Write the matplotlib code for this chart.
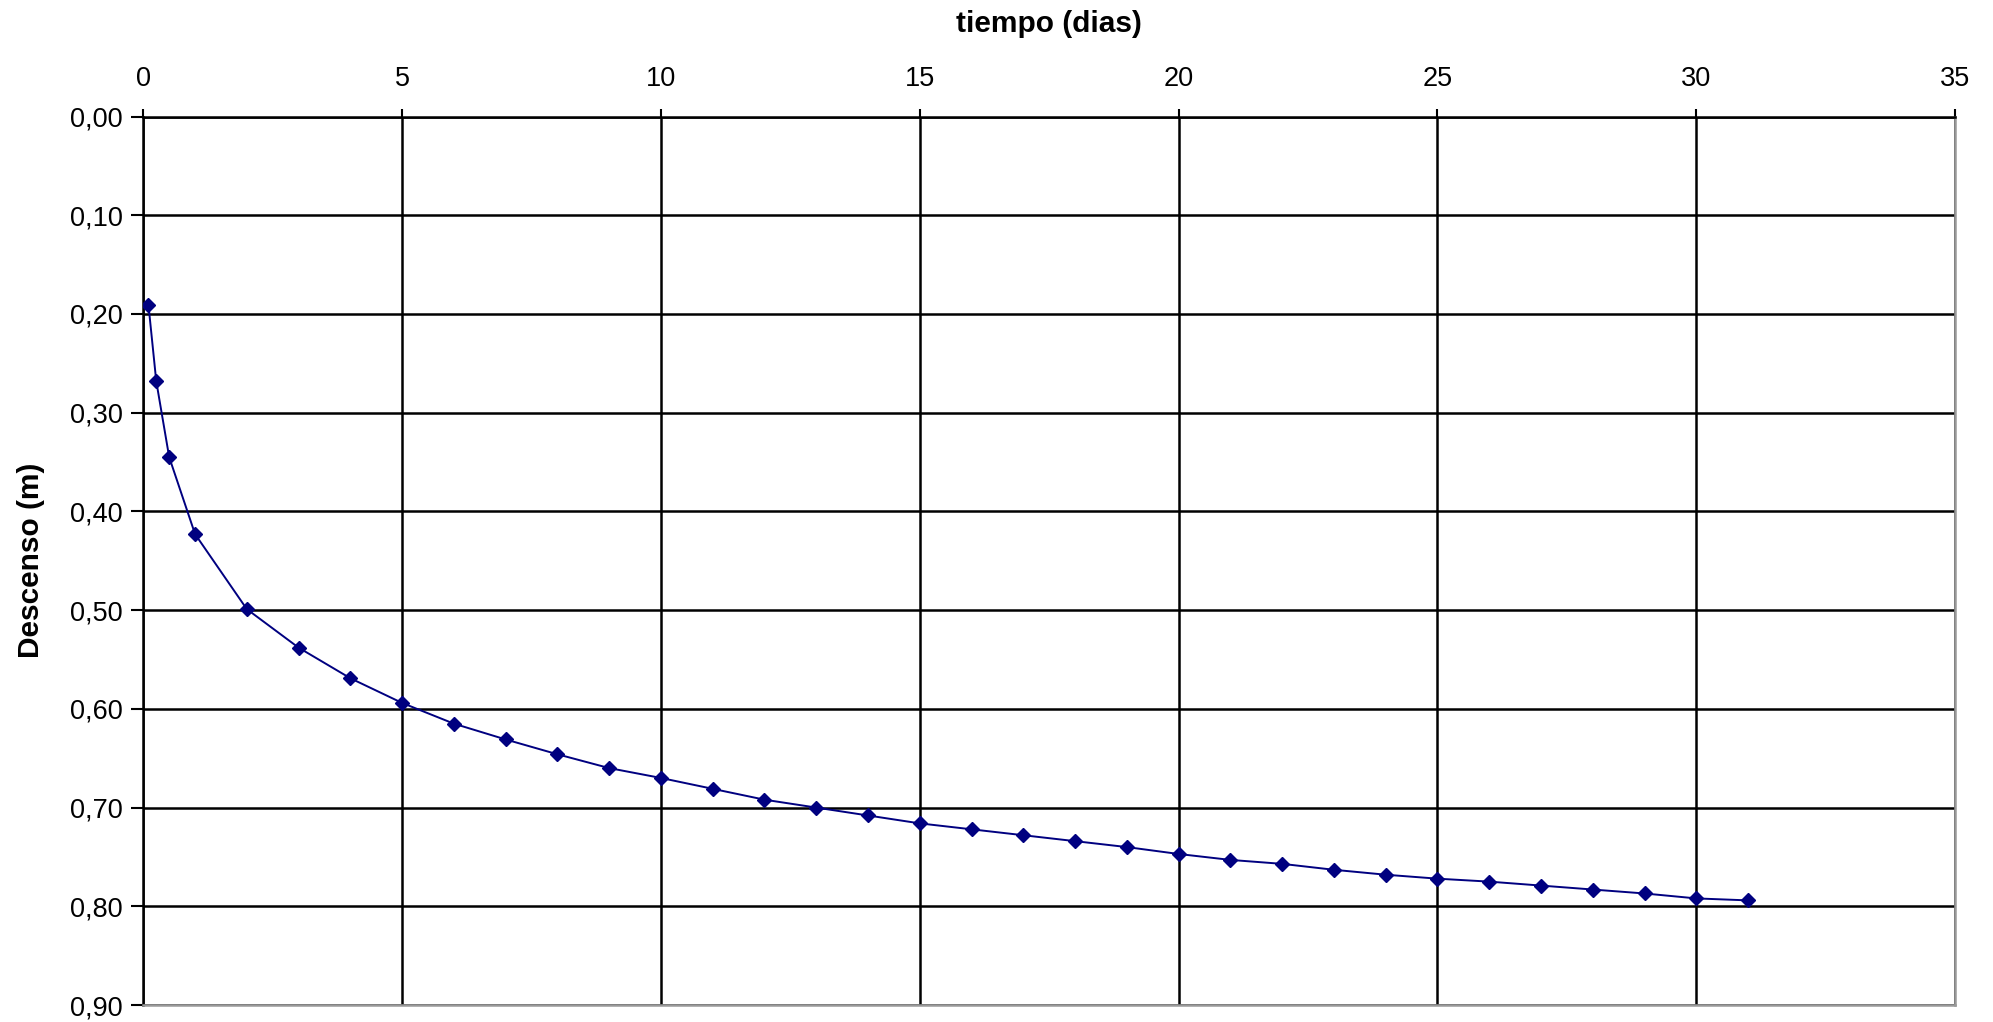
import numpy as np
from matplotlib import pyplot as plt
import matplotlib as mpl
from matplotlib.ticker import FuncFormatter

mpl.rcParams['font.family'] = ['Liberation Sans', 'DejaVu Sans']

# tiempo (dias) / descenso (m)
tiempo = [0.1, 0.25, 0.5, 1, 2, 3, 4, 5, 6, 7, 8, 9, 10, 11, 12, 13, 14, 15, 16,
          17, 18, 19, 20, 21, 22, 23, 24, 25, 26, 27, 28, 29, 30, 31]
descenso = [0.191, 0.268, 0.345, 0.423, 0.499, 0.538, 0.569, 0.594, 0.615, 0.631,
            0.646, 0.660, 0.670, 0.681, 0.692, 0.700, 0.708, 0.716, 0.722, 0.728,
            0.734, 0.740, 0.747, 0.753, 0.757, 0.763, 0.768, 0.772, 0.775, 0.779,
            0.783, 0.787, 0.792, 0.794]
xticks = [0, 5, 10, 15, 20, 25, 30, 35]
yticks = [0.0, 0.1, 0.2, 0.3, 0.4, 0.5, 0.6, 0.7, 0.8, 0.9]

fig = plt.figure(figsize=(19.93, 10.22), dpi=100)
ax = fig.add_axes([0.0719, 0.0166, 0.9091, 0.8694])

ax.plot(tiempo, descenso, color="#000080", linewidth=1.4, marker="D",
        markersize=6.8, markerfacecolor="#000080", markeredgecolor="#000080", zorder=3)

ax.set_xlim(0, 35)
ax.set_ylim(0.9, 0.0)
ax.set_xticks(xticks)
ax.set_yticks(yticks)
ax.yaxis.set_major_formatter(FuncFormatter(lambda v, p: "{:.2f}".format(v).replace(".", ",")))

ax.xaxis.tick_top()
ax.xaxis.set_label_position("top")
ax.tick_params(axis="x", direction="out", length=6, width=1.5, labelsize=19.5, pad=12)
ax.tick_params(axis="y", direction="out", length=9, width=1.5, labelsize=19.5, pad=6)

ax.grid(True, color="black", linewidth=1.8)
ax.set_axisbelow(True)
for side in ["top", "left"]:
    ax.spines[side].set_color("black")
    ax.spines[side].set_linewidth(1.8)
for side in ["bottom", "right"]:
    ax.spines[side].set_color("#999999")
    ax.spines[side].set_linewidth(1.8)

ax.set_xlabel("tiempo (dias)", fontsize=21.5, fontweight="bold", labelpad=24)
ax.set_ylabel("Descenso (m)", fontsize=21.5, fontweight="bold", labelpad=18)

fig.savefig("out.png", dpi=100)
